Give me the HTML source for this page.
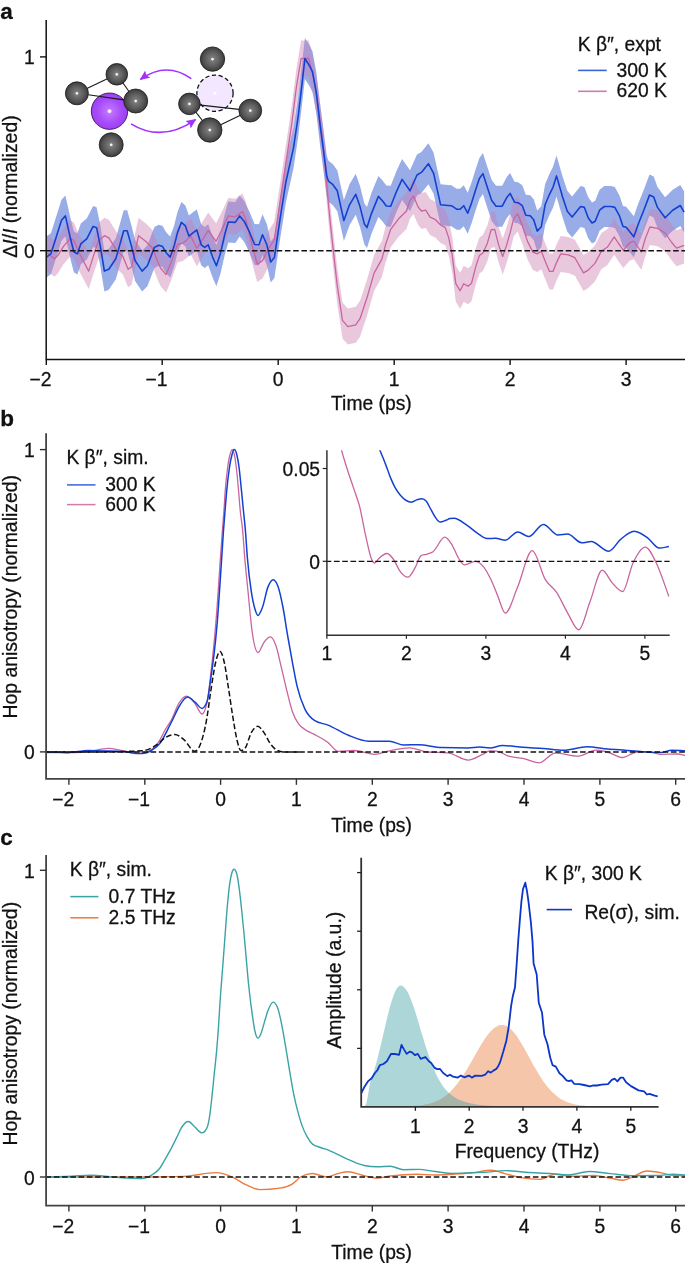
<!DOCTYPE html>
<html><head><meta charset="utf-8"><style>
html,body{margin:0;padding:0;background:#fff;}
svg{display:block;will-change:transform;}
text{font-family:"Liberation Sans",sans-serif;fill:#111;stroke:#111;stroke-width:0.28px;}
</style></head><body>
<svg width="685" height="1263" viewBox="0 0 685 1263">
<defs>
<clipPath id="ca"><rect x="46.4" y="15" width="640" height="344"/></clipPath>
<clipPath id="cbi"><rect x="326.9" y="450.2" width="343" height="184.5"/></clipPath>
<radialGradient id="gg" cx="0.5" cy="0.5" r="0.55"><stop offset="0" stop-color="#858585"/><stop offset="0.6" stop-color="#585858"/><stop offset="1" stop-color="#333"/></radialGradient><radialGradient id="hl"><stop offset="0" stop-color="#fff" stop-opacity="1"/><stop offset="0.45" stop-color="#fff" stop-opacity="0.85"/><stop offset="1" stop-color="#fff" stop-opacity="0"/></radialGradient>
<radialGradient id="gp" cx="0.5" cy="0.5" r="0.55"><stop offset="0" stop-color="#c47cff"/><stop offset="0.6" stop-color="#a84cfb"/><stop offset="1" stop-color="#9a3cf0"/></radialGradient>
<marker id="ah" viewBox="0 0 10 10" refX="9" refY="5" markerWidth="10" markerHeight="10" orient="auto-start-reverse" markerUnits="userSpaceOnUse"><path d="M0 0.5 L10 5 L0 9.5 L1.8 5 Z" fill="#a033ff"/></marker>
</defs>
<text x="0.3" y="18.7" font-size="22.5" font-weight="bold" stroke="#000" stroke-width="0.75">a</text>
<g clip-path="url(#ca)">
<path d="M46.6 236.6 L51 233.1 L57.1 213.8 L61.5 199.8 L65.4 195.4 L70.3 217.3 L73.8 231.3 L77.3 233.4 L80.8 223.4 L86.9 218.2 L93.1 205.9 L96.6 207.2 L100.1 224.3 L104.4 250.6 L108.8 248.8 L115.8 238.3 L119.3 226.1 L123.7 210.3 L127.2 210.3 L131.6 226.1 L135.1 240.1 L142.1 250.6 L147.4 245.3 L154.4 226.9 L158.8 224.8 L162.6 226.1 L166.1 232.2 L170.2 236.6 L174 226.1 L177.5 212.1 L181.4 201.9 L185.4 205.4 L188.9 215.6 L193.3 212.1 L196.8 209.4 L201.2 224.3 L204.7 226.9 L208.2 224.3 L212.6 236.6 L216.4 245.3 L220.4 233.1 L224.8 213.8 L228.3 201.5 L235.3 201.9 L239.7 195.4 L244.1 200.7 L249.3 211.2 L254.6 224 L259 224.3 L262.5 214.2 L266.9 224.3 L270.7 241.5 L274.4 237 L280.2 197.6 L285.9 161.5 L293.5 127.3 L298.3 95 L302.1 62.7 L304.9 38 L309.7 45.6 L312.5 51.3 L316.3 72.2 L320.1 104.5 L323.9 133 L326.8 155.8 L328.5 160.7 L332.9 164.2 L337.3 170.3 L343.9 200.1 L349.5 184.3 L355.7 173.8 L360 186.1 L364.4 203.6 L367 207.1 L371.4 193.1 L378.4 175.9 L382.8 180.8 L386.3 185.5 L390.7 185.7 L396.8 170.3 L402.1 158.9 L410 170.3 L417 154.5 L421.4 151.9 L428.4 143.2 L433.6 152.8 L440.6 184.3 L445.3 184.7 L451.4 185.2 L456.6 188.7 L460.1 188.7 L463.7 185.2 L467.7 192.7 L471.5 182.6 L475.9 168.6 L479.4 158 L482.9 153.1 L487.3 166.8 L491.7 179.9 L496.1 185.7 L502.2 185.7 L506.6 177.3 L510.1 172.9 L514.5 181.7 L518 182.2 L522.3 185.2 L525.8 194.8 L530.2 195.2 L533.7 199.2 L537.2 210.6 L541.3 206.2 L545.1 184.3 L549.5 173.8 L553 166.8 L556.5 155.4 L562.6 176.5 L567.3 190.7 L572.1 196.4 L580.6 186 L584.4 186.9 L588.2 197.3 L592 202.5 L595.2 200.8 L599.6 189.7 L604.3 186 L611 186 L614.8 186.9 L619.5 195.4 L623 205.9 L626.2 206.8 L633.8 216.3 L638.5 203 L644.2 188.8 L649.5 174.6 L653.7 176.5 L657.5 186.9 L665.1 197.3 L672.7 189.7 L680.3 185 L684.1 191.6 L684.1 232.6 L680.3 226 L672.7 230.7 L665.1 238.3 L657.5 227.9 L653.7 217.5 L649.5 215.6 L644.2 229.8 L638.5 244 L633.8 257.3 L626.2 247.8 L623 246.9 L619.5 236.4 L614.8 227.9 L611 227 L604.3 227 L599.6 230.7 L595.2 241.8 L592 243.5 L588.2 238.3 L584.4 227.9 L580.6 227 L572.1 237.4 L567.3 231.7 L562.6 217.5 L556.5 196.4 L553 207.8 L549.5 214.8 L545.1 225.3 L541.3 247.2 L537.2 251.6 L533.7 240.2 L530.2 236.2 L525.8 235.8 L522.3 226.2 L518 223.2 L514.5 222.7 L510.1 213.9 L506.6 218.3 L502.2 226.7 L496.1 226.7 L491.7 220.9 L487.3 207.8 L482.9 194.1 L479.4 199 L475.9 209.6 L471.5 223.6 L467.7 233.7 L463.7 226.2 L460.1 229.7 L456.6 229.7 L451.4 226.2 L445.3 225.7 L440.6 225.3 L433.6 193.8 L428.4 184.2 L421.4 192.9 L417 195.5 L410 211.3 L402.1 199.9 L396.8 211.3 L390.7 226.7 L386.3 226.5 L382.8 221.8 L378.4 216.9 L371.4 234.1 L367 248.1 L364.4 244.6 L360 227.1 L355.7 214.8 L349.5 225.3 L343.9 241.1 L337.3 211.3 L332.9 205.2 L328.5 201.7 L326.8 196.8 L323.9 174 L320.1 145.5 L316.3 113.2 L312.5 92.3 L309.7 86.6 L304.9 79 L302.1 103.7 L298.3 136 L293.5 168.3 L285.9 202.5 L280.2 238.6 L274.4 278 L270.7 282.5 L266.9 265.3 L262.5 255.2 L259 265.3 L254.6 265 L249.3 252.2 L244.1 241.7 L239.7 236.4 L235.3 242.9 L228.3 242.5 L224.8 254.8 L220.4 274.1 L216.4 286.3 L212.6 277.6 L208.2 265.3 L204.7 267.9 L201.2 265.3 L196.8 250.4 L193.3 253.1 L188.9 256.6 L185.4 246.4 L181.4 242.9 L177.5 253.1 L174 267.1 L170.2 277.6 L166.1 273.2 L162.6 267.1 L158.8 265.8 L154.4 267.9 L147.4 286.3 L142.1 291.6 L135.1 281.1 L131.6 267.1 L127.2 251.3 L123.7 251.3 L119.3 267.1 L115.8 279.3 L108.8 289.8 L104.4 291.6 L100.1 265.3 L96.6 248.2 L93.1 246.9 L86.9 259.2 L80.8 264.4 L77.3 274.4 L73.8 272.3 L70.3 258.3 L65.4 236.4 L61.5 240.8 L57.1 254.8 L51 274.1 L46.6 277.6 Z" fill="#98ade8"/>
<path d="M46.6 234.7 L54.5 240.8 L58 237.3 L63.3 228.6 L70.3 220.3 L73.8 222.4 L79 234.7 L88.7 253.1 L93.1 239.1 L98.3 223.3 L104.4 217.7 L108.8 219.8 L117.6 233.8 L122.8 238.2 L128.1 251.3 L131.6 248.7 L138.6 217.7 L145.6 223.3 L152.6 230.3 L157.9 244.3 L160.5 250 L166.1 256.6 L170.5 246.1 L177.5 226.5 L182.8 225.1 L186.3 222.4 L190.7 218.1 L196.8 230.3 L202 222.4 L208.2 212.5 L216.1 223.3 L221.3 212.8 L228.3 197.9 L235.3 198.8 L242.3 193.5 L245.8 201.4 L251.1 223.3 L257.2 246.1 L262.5 242.6 L268.6 230.5 L274.2 222 L280.2 183 L285.9 145 L291.6 107 L296.4 69 L301.1 40.5 L308.7 40.5 L313.5 59.5 L318.2 88 L323 126 L325.5 152 L328.5 187 L332.9 229 L337.3 268 L342.5 302.4 L347.8 308.6 L355.7 306.8 L360 300.7 L367 279.7 L374.1 255.1 L381.9 241.1 L385.4 227.1 L390.7 211.3 L398.6 200.8 L406.5 193 L410 182.4 L413.5 178.1 L417.9 188.6 L421.4 193 L425.7 192.1 L430.1 199.1 L435.4 201.7 L440.6 207 L445.3 209.6 L448.8 220.1 L452.3 237.6 L455.8 265.7 L460.1 272.7 L463.7 265.7 L468 268.3 L471.5 265.3 L475.9 248.1 L479.4 237.6 L482.9 235 L487.3 225.4 L491.2 211.7 L494.7 211.3 L498.7 227.1 L502.7 238.5 L506.6 227.1 L510.1 214.9 L513.6 200.8 L517.6 195.6 L522.3 207.8 L527.6 223.6 L532.9 234.1 L537.2 235.9 L541.3 233.2 L545.1 242.9 L549.5 253.4 L553 253.4 L556.5 244.6 L560.7 235.9 L568.3 236.9 L574.9 239.7 L583.5 254.9 L588.2 252.1 L594.9 245.4 L601.5 233.1 L607.2 229.3 L614.2 218.8 L618.6 225.5 L623.3 232.1 L630 224.5 L633.8 223.2 L641.4 234 L645.2 220.7 L649.9 209 L657.5 210.3 L665.1 215 L671.7 224.5 L676.5 230.2 L684.1 227.4 L684.1 263.4 L676.5 266.2 L671.7 260.5 L665.1 251 L657.5 246.3 L649.9 245 L645.2 256.7 L641.4 270 L633.8 259.2 L630 260.5 L623.3 268.1 L618.6 261.5 L614.2 254.8 L607.2 265.3 L601.5 269.1 L594.9 281.4 L588.2 288.1 L583.5 290.9 L574.9 275.7 L568.3 272.9 L560.7 271.9 L556.5 280.6 L553 289.4 L549.5 289.4 L545.1 278.9 L541.3 269.2 L537.2 271.9 L532.9 270.1 L527.6 259.6 L522.3 243.8 L517.6 231.6 L513.6 236.8 L510.1 250.9 L506.6 263.1 L502.7 274.5 L498.7 263.1 L494.7 247.3 L491.2 247.7 L487.3 261.4 L482.9 271 L479.4 273.6 L475.9 284.1 L471.5 301.3 L468 304.3 L463.7 301.7 L460.1 308.7 L455.8 301.7 L452.3 273.6 L448.8 256.1 L445.3 245.6 L440.6 243 L435.4 237.7 L430.1 235.1 L425.7 228.1 L421.4 229 L417.9 224.6 L413.5 214.1 L410 218.4 L406.5 229 L398.6 236.8 L390.7 247.3 L385.4 263.1 L381.9 277.1 L374.1 291.1 L367 315.7 L360 336.7 L355.7 342.8 L347.8 344.6 L342.5 338.4 L337.3 304 L332.9 265 L328.5 223 L325.5 188 L323 162 L318.2 124 L313.5 95.5 L308.7 76.5 L301.1 76.5 L296.4 105 L291.6 143 L285.9 181 L280.2 219 L274.2 258 L268.6 266.5 L262.5 278.6 L257.2 282.1 L251.1 259.3 L245.8 237.4 L242.3 229.5 L235.3 234.8 L228.3 233.9 L221.3 248.8 L216.1 259.3 L208.2 248.5 L202 258.4 L196.8 266.3 L190.7 254.1 L186.3 258.4 L182.8 261.1 L177.5 262.5 L170.5 282.1 L166.1 292.6 L160.5 286 L157.9 280.3 L152.6 266.3 L145.6 259.3 L138.6 253.7 L131.6 284.7 L128.1 287.3 L122.8 274.2 L117.6 269.8 L108.8 255.8 L104.4 253.7 L98.3 259.3 L93.1 275.1 L88.7 289.1 L79 270.7 L73.8 258.4 L70.3 256.3 L63.3 264.6 L58 273.3 L54.5 276.8 L46.6 270.7 Z" fill="rgba(202,123,176,0.42)"/>
<path d="M46.6 252.7 L54.5 258.8 L58 255.3 L63.3 246.6 L70.3 238.3 L73.8 240.4 L79 252.7 L88.7 271.1 L93.1 257.1 L98.3 241.3 L104.4 235.7 L108.8 237.8 L117.6 251.8 L122.8 256.2 L128.1 269.3 L131.6 266.7 L138.6 235.7 L145.6 241.3 L152.6 248.3 L157.9 262.3 L160.5 268 L166.1 274.6 L170.5 264.1 L177.5 244.5 L182.8 243.1 L186.3 240.4 L190.7 236.1 L196.8 248.3 L202 240.4 L208.2 230.5 L216.1 241.3 L221.3 230.8 L228.3 215.9 L235.3 216.8 L242.3 211.5 L245.8 219.4 L251.1 241.3 L257.2 264.1 L262.5 260.6 L268.6 248.5 L274.2 240 L280.2 201 L285.9 163 L291.6 125 L296.4 87 L301.1 58.5 L308.7 58.5 L313.5 77.5 L318.2 106 L323 144 L325.5 170 L328.5 205 L332.9 247 L337.3 286 L342.5 320.4 L347.8 326.6 L355.7 324.8 L360 318.7 L367 297.7 L374.1 273.1 L381.9 259.1 L385.4 245.1 L390.7 229.3 L398.6 218.8 L406.5 211 L410 200.4 L413.5 196.1 L417.9 206.6 L421.4 211 L425.7 210.1 L430.1 217.1 L435.4 219.7 L440.6 225 L445.3 227.6 L448.8 238.1 L452.3 255.6 L455.8 283.7 L460.1 290.7 L463.7 283.7 L468 286.3 L471.5 283.3 L475.9 266.1 L479.4 255.6 L482.9 253 L487.3 243.4 L491.2 229.7 L494.7 229.3 L498.7 245.1 L502.7 256.5 L506.6 245.1 L510.1 232.9 L513.6 218.8 L517.6 213.6 L522.3 225.8 L527.6 241.6 L532.9 252.1 L537.2 253.9 L541.3 251.2 L545.1 260.9 L549.5 271.4 L553 271.4 L556.5 262.6 L560.7 253.9 L568.3 254.9 L574.9 257.7 L583.5 272.9 L588.2 270.1 L594.9 263.4 L601.5 251.1 L607.2 247.3 L614.2 236.8 L618.6 243.5 L623.3 250.1 L630 242.5 L633.8 241.2 L641.4 252 L645.2 238.7 L649.9 227 L657.5 228.3 L665.1 233 L671.7 242.5 L676.5 248.2 L684.1 245.4" fill="none" stroke="#c9649e" stroke-width="1.3" stroke-linejoin="round"/>
<path d="M46.6 257.1 L51 253.6 L57.1 234.3 L61.5 220.3 L65.4 215.9 L70.3 237.8 L73.8 251.8 L77.3 253.9 L80.8 243.9 L86.9 238.7 L93.1 226.4 L96.6 227.7 L100.1 244.8 L104.4 271.1 L108.8 269.3 L115.8 258.8 L119.3 246.6 L123.7 230.8 L127.2 230.8 L131.6 246.6 L135.1 260.6 L142.1 271.1 L147.4 265.8 L154.4 247.4 L158.8 245.3 L162.6 246.6 L166.1 252.7 L170.2 257.1 L174 246.6 L177.5 232.6 L181.4 222.4 L185.4 225.9 L188.9 236.1 L193.3 232.6 L196.8 229.9 L201.2 244.8 L204.7 247.4 L208.2 244.8 L212.6 257.1 L216.4 265.8 L220.4 253.6 L224.8 234.3 L228.3 222 L235.3 222.4 L239.7 215.9 L244.1 221.2 L249.3 231.7 L254.6 244.5 L259 244.8 L262.5 234.7 L266.9 244.8 L270.7 262 L274.4 257.5 L280.2 218.1 L285.9 182 L293.5 147.8 L298.3 115.5 L302.1 83.2 L304.9 58.5 L309.7 66.1 L312.5 71.8 L316.3 92.7 L320.1 125 L323.9 153.5 L326.8 176.3 L328.5 181.2 L332.9 184.7 L337.3 190.8 L343.9 220.6 L349.5 204.8 L355.7 194.3 L360 206.6 L364.4 224.1 L367 227.6 L371.4 213.6 L378.4 196.4 L382.8 201.3 L386.3 206 L390.7 206.2 L396.8 190.8 L402.1 179.4 L410 190.8 L417 175 L421.4 172.4 L428.4 163.7 L433.6 173.3 L440.6 204.8 L445.3 205.2 L451.4 205.7 L456.6 209.2 L460.1 209.2 L463.7 205.7 L467.7 213.2 L471.5 203.1 L475.9 189.1 L479.4 178.5 L482.9 173.6 L487.3 187.3 L491.7 200.4 L496.1 206.2 L502.2 206.2 L506.6 197.8 L510.1 193.4 L514.5 202.2 L518 202.7 L522.3 205.7 L525.8 215.3 L530.2 215.7 L533.7 219.7 L537.2 231.1 L541.3 226.7 L545.1 204.8 L549.5 194.3 L553 187.3 L556.5 175.9 L562.6 197 L567.3 211.2 L572.1 216.9 L580.6 206.5 L584.4 207.4 L588.2 217.8 L592 223 L595.2 221.3 L599.6 210.2 L604.3 206.5 L611 206.5 L614.8 207.4 L619.5 215.9 L623 226.4 L626.2 227.3 L633.8 236.8 L638.5 223.5 L644.2 209.3 L649.5 195.1 L653.7 197 L657.5 207.4 L665.1 217.8 L672.7 210.2 L680.3 205.5 L684.1 212.1" fill="none" stroke="#1440d2" stroke-width="1.6" stroke-linejoin="round"/>
<path d="M46.4 250.7 H685" stroke="#111" stroke-width="1.5" stroke-dasharray="5.6 2.66" stroke-dashoffset="1.04"/>
</g>
<path d="M46.2 20 V359.4 H685" fill="none" stroke="#111" stroke-width="1.5"/>
<path d="M46.3 359.4 v5.5" stroke="#111" stroke-width="1.4"/>
<text x="51.6" y="385.8" text-anchor="end" font-size="19.3">−2</text>
<path d="M162.2 359.4 v5.5" stroke="#111" stroke-width="1.4"/>
<text x="167.6" y="385.8" text-anchor="end" font-size="19.3">−1</text>
<path d="M278.2 359.4 v5.5" stroke="#111" stroke-width="1.4"/>
<text x="278.2" y="385.8" text-anchor="middle" font-size="19.3">0</text>
<path d="M394.2 359.4 v5.5" stroke="#111" stroke-width="1.4"/>
<text x="394.2" y="385.8" text-anchor="middle" font-size="19.3">1</text>
<path d="M510.1 359.4 v5.5" stroke="#111" stroke-width="1.4"/>
<text x="510.1" y="385.8" text-anchor="middle" font-size="19.3">2</text>
<path d="M626.1 359.4 v5.5" stroke="#111" stroke-width="1.4"/>
<text x="626.1" y="385.8" text-anchor="middle" font-size="19.3">3</text>
<path d="M46.2 56.9 h-6.2" stroke="#111" stroke-width="1.4"/>
<text x="34.8" y="64.4" text-anchor="end" font-size="19.3">1</text>
<path d="M46.2 250.7 h-6.2" stroke="#111" stroke-width="1.4"/>
<text x="34.8" y="258.2" text-anchor="end" font-size="19.3">0</text>
<text x="371.4" y="410" text-anchor="middle" font-size="19.3">Time (ps)</text>
<text transform="translate(17 186.5) rotate(-90)" text-anchor="middle" font-size="19.4">Δ<tspan font-style="italic">I</tspan>/<tspan font-style="italic">I</tspan> (normalized)</text>
<text x="577.7" y="50.7" text-anchor="start" font-size="19.3">K β″, expt</text>
<path d="M578.1 70.4 H606.7" stroke="#3a63db" stroke-width="1.6"/>
<path d="M578.1 91.3 H606.7" stroke="#d27aab" stroke-width="1.6"/>
<text x="616.6" y="76.7" text-anchor="start" font-size="19.3">300 K</text>
<text x="616.6" y="97.2" text-anchor="start" font-size="19.3">620 K</text>
<path d="M76.9 93.3 L116.8 74.3" stroke="#1a1a1a" stroke-width="1.1"/>
<path d="M116.8 74.3 L135.7 101" stroke="#1a1a1a" stroke-width="1.1"/>
<circle cx="116.8" cy="74.3" r="10.8" fill="url(#gg)" stroke="#1a1a1a" stroke-width="0.8"/>
<circle cx="116.8" cy="74.3" r="1.9" fill="url(#hl)"/>
<circle cx="76.9" cy="93.3" r="11.5" fill="url(#gg)" stroke="#1a1a1a" stroke-width="0.8"/>
<circle cx="76.9" cy="93.3" r="1.9" fill="url(#hl)"/>
<circle cx="109.5" cy="111.2" r="18.2" fill="url(#gp)" stroke="#2a0a40" stroke-width="0.8"/>
<circle cx="109.5" cy="111.2" r="2.6" fill="url(#hl)"/>
<path d="M88.3 94.7 L123.6 99.9" stroke="#1a1a1a" stroke-width="1.1"/>
<circle cx="135.7" cy="101" r="12" fill="url(#gg)" stroke="#1a1a1a" stroke-width="0.8"/>
<circle cx="135.7" cy="101" r="1.9" fill="url(#hl)"/>
<circle cx="111.2" cy="144.8" r="12" fill="url(#gg)" stroke="#1a1a1a" stroke-width="0.8"/>
<circle cx="111.2" cy="144.8" r="1.9" fill="url(#hl)"/>
<circle cx="212.5" cy="59.1" r="12.2" fill="url(#gg)" stroke="#1a1a1a" stroke-width="0.8"/>
<circle cx="212.5" cy="59.1" r="1.9" fill="url(#hl)"/>
<circle cx="215" cy="93.2" r="18.1" fill="#f3e6ff" stroke="#111" stroke-width="1.3" stroke-dasharray="4.2 2.6"/>
<circle cx="215" cy="93.2" r="2.2" fill="url(#hl)"/>
<path d="M189.4 103.9 L250.3 110.6" stroke="#1a1a1a" stroke-width="1.1"/>
<path d="M189.4 103.9 L209.8 130" stroke="#1a1a1a" stroke-width="1.1"/>
<path d="M209.8 130 L250.3 110.6" stroke="#1a1a1a" stroke-width="1.1"/>
<circle cx="189.4" cy="103.9" r="10.8" fill="url(#gg)" stroke="#1a1a1a" stroke-width="0.8"/>
<circle cx="189.4" cy="103.9" r="1.9" fill="url(#hl)"/>
<circle cx="250.3" cy="110.6" r="11.4" fill="url(#gg)" stroke="#1a1a1a" stroke-width="0.8"/>
<circle cx="250.3" cy="110.6" r="1.9" fill="url(#hl)"/>
<circle cx="209.8" cy="130" r="12.2" fill="url(#gg)" stroke="#1a1a1a" stroke-width="0.8"/>
<circle cx="209.8" cy="130" r="1.9" fill="url(#hl)"/>
<path d="M191.3 78.6 Q166 61 140.5 79.4" fill="none" stroke="#a033ff" stroke-width="1.7" marker-end="url(#ah)"/>
<path d="M131 123.9 Q162 143 195.5 119.6" fill="none" stroke="#a033ff" stroke-width="1.7" marker-end="url(#ah)"/>
<text x="0.3" y="426.3" font-size="22.5" font-weight="bold" stroke="#000" stroke-width="0.75">b</text>
<path d="M46.4 752.5 C47.9 752.6 49.5 752.7 51 752.7 C58 752.7 65 752.7 72 752.7 C78.2 752.7 84.5 751.9 90.7 751.1 C96.5 750.4 102.4 748.3 108.2 748.3 C112.5 748.3 116.8 749.6 121.1 750.4 C126.5 751.4 132 753.6 137.4 753.6 C140.5 753.6 143.7 753.1 146.8 752.2 C150.7 751 154.6 747.9 158.5 742.2 C160.8 738.8 163.2 733.3 165.5 729.3 C167.4 726 169.4 723.6 171.3 720 C173.9 715.2 176.4 707 179 703 C181.5 699.1 184 696.2 186.5 696.2 C189.3 696.2 192.2 700.3 195 703.7 C197.4 706.5 199.7 714 202.1 714 C204 714 205.8 709 207.7 698.9 C208.7 693.3 209.8 682.7 210.8 673.6 C211.9 664.2 212.9 654.9 214 643.5 C215.1 632.1 216.1 619.8 217.2 605.5 C218.2 591.7 219.3 574.3 220.3 559.6 C221 549.1 221.8 538.8 222.5 529.1 C223 523 223.4 517.8 223.9 511.3 C224.4 504.8 224.8 496 225.3 489.9 C226 480.3 226.8 474.2 227.5 468.5 C228.4 461.8 229.2 457.5 230.1 454.3 C230.8 451.8 231.4 449.6 232.1 449.6 C232.8 449.6 233.6 451.2 234.3 454.3 C235 457.3 235.7 462.6 236.4 468.5 C237.1 474.4 237.8 482.1 238.5 489.9 C239.1 496.6 239.7 505.2 240.3 511.3 C241 518.8 241.8 521.5 242.5 529.1 C243.3 537.3 244.1 550.3 244.9 559.6 C245.9 571.6 247 580.9 248 591.3 C249.4 605 250.7 621.4 252.1 631.3 C254.1 645.5 256 652.6 258 652.6 C260 652.6 262 644.9 264 642.3 C266.1 639.6 268.2 636.8 270.3 636.8 C272.2 636.8 274 640.3 275.9 645.5 C277.7 650.6 279.6 660.1 281.4 667.7 C283.3 675.4 285.1 684 287 691.4 C288.8 698.7 290.7 706.7 292.5 712 C294.6 718.1 296.7 721.3 298.8 724.2 C300.8 727 302.8 727.9 304.8 729.4 C307.7 731.5 310.5 732.3 313.4 733.9 C318.3 736.6 323.1 738.9 328 742.6 C331.4 745.2 334.8 751.4 338.2 751.4 C343.5 751.4 348.9 750.5 354.2 750.5 C361 750.5 367.9 754.3 374.7 754.3 C379.6 754.3 384.4 751.8 389.3 750.8 C396.1 749.4 402.9 747.9 409.7 747.9 C415.5 747.9 421.4 751.5 427.2 752 C434 752.5 440.9 752.3 447.7 752.8 C454.5 753.3 461.3 760.1 468.1 760.1 C473 760.1 477.8 756.5 482.7 754.3 C485.1 753.2 487.6 750.8 490 750.8 C492.2 750.8 494.5 750.9 496.7 751.1 C500.6 751.4 504.5 754.9 508.4 756.1 C513.3 757.6 518.1 757.4 523 758.4 C528.3 759.5 533.7 762.8 539 762.8 C544.4 762.8 549.7 753.1 555.1 753.1 C562.9 753.1 570.6 756.1 578.4 756.1 C584.3 756.1 590.1 750.2 596 750.2 C599.9 750.2 603.7 751 607.6 752 C612.5 753.2 617.3 757.5 622.2 757.5 C627.1 757.5 631.9 752.2 636.8 752 C640.7 751.8 644.6 751.7 648.5 751.7 C652.4 751.7 656.3 754.3 660.2 754.3 C666 754.3 671.9 754 677.7 754 C680.1 754 682.6 755 685 755.5" fill="none" stroke="#c9649e" stroke-width="1.3"/>
<path d="M46.4 752 C47.9 752 49.5 752 51 752 C56.5 752 61.9 752.7 67.4 752.7 C74.4 752.7 81.4 750.4 88.4 750.4 C95.4 750.4 102.4 750.8 109.4 751.1 C114.9 751.3 120.3 751.6 125.8 752 C131.2 752.4 136.7 753.6 142.1 753.6 C145.2 753.6 148.4 752.3 151.5 750.4 C154.6 748.5 157.7 746.6 160.8 742.2 C163.1 738.9 165.5 733.8 167.8 729.3 C169.4 726.3 170.9 723.1 172.5 720 C175 715 177.5 708.8 180 705 C182.5 701.2 184.9 697 187.4 697 C189.9 697 192.5 700.1 195 702.1 C197.4 704 199.7 708.4 202.1 708.4 C203.7 708.4 205.3 706.3 206.9 702.1 C208.2 698.7 209.5 687.3 210.8 678.4 C211.9 671.1 212.9 663.9 214 654.6 C215.1 645.4 216.1 635.8 217.2 622.9 C218 613.6 218.7 602.4 219.5 591.3 C220.3 579.7 221.1 566.9 221.9 554.8 C222.5 546.2 223 536.9 223.6 529.1 C224.1 522.7 224.5 517.1 225 511.3 C225.6 503.9 226.2 496.2 226.8 489.9 C227.6 481.2 228.5 474.3 229.3 468.5 C230.2 462 231.2 457.5 232.1 454.3 C232.8 451.8 233.5 449.6 234.2 449.6 C235.1 449.6 235.9 451.2 236.7 454.3 C237.5 457.5 238.4 462 239.2 468.5 C239.9 474.2 240.7 482.6 241.4 489.9 C242.1 496.9 242.8 504.3 243.5 511.3 C244.1 517.3 244.7 522.1 245.3 529.1 C246 537.3 246.7 549.6 247.4 558 C248.7 573.6 250 583.1 251.3 591.7 C252.4 598.7 253.4 603.6 254.5 607.5 C255.7 611.8 256.8 615.4 258 615.4 C259.5 615.4 260.9 611.3 262.4 607.5 C264.3 602.6 266.1 591.5 268 586.9 C269.7 582.6 271.5 579.8 273.2 579.8 C274.9 579.8 276.5 582.2 278.2 586.9 C279.8 591.4 281.4 599.2 283 607.5 C284.6 615.6 286.1 626.9 287.7 636 C289.3 645.3 290.9 654.4 292.5 662.9 C294.1 671.3 295.6 680 297.2 686.7 C299.7 697.5 302.3 703.4 304.8 708.9 C308.1 716.1 311.5 718.5 314.8 720.7 C319.2 723.6 323.6 723.3 328 725.1 C334.8 727.8 341.6 732.6 348.4 735.3 C355.2 738 362 741.2 368.8 741.2 C375.6 741.2 382.5 741.2 389.3 741.2 C394.2 741.2 399 745 403.9 745 C408.8 745 413.6 744.7 418.5 744.7 C426.3 744.7 434 747.4 441.8 747.6 C450.6 747.8 459.3 747.9 468.1 747.9 C472 747.9 475.9 747 479.8 747 C483.2 747 486.6 747.9 490 747.9 C494.2 747.9 498.3 745.5 502.5 745.5 C509.3 745.5 516.2 746.8 523 747.3 C529.8 747.8 536.6 748 543.4 748.5 C550.2 749 557 750.2 563.8 750.2 C571.6 750.2 579.4 746.7 587.2 746.7 C594 746.7 600.8 748.4 607.6 749 C613.4 749.5 619.3 749.8 625.1 750.2 C631 750.7 636.8 751.3 642.7 751.7 C648.5 752.1 654.4 752.6 660.2 752.6 C664.1 752.6 668 750.2 671.9 750.2 C676.3 750.2 680.6 750.6 685 750.8" fill="none" stroke="#1440d2" stroke-width="1.5"/>
<path d="M46.4 751.9 H685" stroke="#111" stroke-width="1.5" stroke-dasharray="5.6 2.66" stroke-dashoffset="3.22"/>
<path d="M46.4 751.9 C64.3 751.9 82.1 751.9 100 751.9 C114 751.9 128.1 751.5 142.1 750.8 C146.8 750.6 151.4 748.2 156.1 745.2 C159.2 743.2 162.4 739.3 165.5 737.5 C168.6 735.7 171.7 734.5 174.8 734.5 C177.9 734.5 181.1 737.3 184.2 739.9 C187.7 742.8 191.2 751.3 194.7 751.3 C196.6 751.3 198.6 748.9 200.5 744 C202.6 738.6 204.8 730.3 206.9 717.9 C208.2 710.3 209.5 699.4 210.8 691 C212.4 680.7 214 669.1 215.6 662.5 C217.1 656.4 218.5 651.4 220 651.4 C221.4 651.4 222.9 656.2 224.3 662.5 C225.6 668.3 226.9 678.1 228.2 686.3 C229.8 696.4 231.4 708.3 233 717.9 C234.3 725.9 235.7 734.5 237 740 C238.3 745.5 239.7 750.6 241 750.6 C242.3 750.6 243.7 749.9 245 748.4 C247.1 746.1 249.2 736.3 251.3 732.6 C253.4 728.9 255.6 726.3 257.7 726.3 C259.8 726.3 261.9 729.7 264 732.6 C266.1 735.5 268.2 740.8 270.3 743.7 C272.9 747.3 275.6 749.9 278.2 750.8 C280.9 751.7 283.5 752.1 286.2 752.1 C290.8 752.1 295.4 752 300 751.9" fill="none" stroke="#111" stroke-width="1.5" stroke-dasharray="5.6 2.66"/>
<path d="M46.1 433.3 V778.8 H685" fill="none" stroke="#444" stroke-width="1.8"/>
<path d="M68.9 778.8 v6" stroke="#333" stroke-width="1.4"/>
<text x="74.3" y="805.9" text-anchor="end" font-size="19.3">−2</text>
<path d="M144.8 778.8 v6" stroke="#333" stroke-width="1.4"/>
<text x="150.1" y="805.9" text-anchor="end" font-size="19.3">−1</text>
<path d="M220.6 778.8 v6" stroke="#333" stroke-width="1.4"/>
<text x="220.6" y="805.9" text-anchor="middle" font-size="19.3">0</text>
<path d="M296.4 778.8 v6" stroke="#333" stroke-width="1.4"/>
<text x="296.4" y="805.9" text-anchor="middle" font-size="19.3">1</text>
<path d="M372.3 778.8 v6" stroke="#333" stroke-width="1.4"/>
<text x="372.3" y="805.9" text-anchor="middle" font-size="19.3">2</text>
<path d="M448.1 778.8 v6" stroke="#333" stroke-width="1.4"/>
<text x="448.1" y="805.9" text-anchor="middle" font-size="19.3">3</text>
<path d="M524 778.8 v6" stroke="#333" stroke-width="1.4"/>
<text x="524" y="805.9" text-anchor="middle" font-size="19.3">4</text>
<path d="M599.9 778.8 v6" stroke="#333" stroke-width="1.4"/>
<text x="599.9" y="805.9" text-anchor="middle" font-size="19.3">5</text>
<path d="M675.7 778.8 v6" stroke="#333" stroke-width="1.4"/>
<text x="675.7" y="805.9" text-anchor="middle" font-size="19.3">6</text>
<path d="M46.1 449.6 h-6.2" stroke="#333" stroke-width="1.4"/>
<text x="34.7" y="457.1" text-anchor="end" font-size="19.3">1</text>
<path d="M46.1 751.9 h-6.2" stroke="#333" stroke-width="1.4"/>
<text x="34.7" y="759.4" text-anchor="end" font-size="19.3">0</text>
<text x="371.6" y="831.6" text-anchor="middle" font-size="19.3">Time (ps)</text>
<text transform="translate(17.2 596.8) rotate(-90)" text-anchor="middle" font-size="19.4">Hop anisotropy (normalized)</text>
<text x="66.4" y="464" text-anchor="start" font-size="19.3">K β″, sim.</text>
<path d="M67 484.9 H95.5" stroke="#3a63db" stroke-width="1.5"/>
<path d="M67 504.6 H95.5" stroke="#d27aab" stroke-width="1.5"/>
<text x="105.3" y="491" text-anchor="start" font-size="19.3">300 K</text>
<text x="105.3" y="511.1" text-anchor="start" font-size="19.3">600 K</text>
<rect x="327" y="440" width="345" height="195" fill="#fff"/>
<g clip-path="url(#cbi)">
<path d="M338 435 C339.2 440 340.3 445.4 341.5 450 C343.1 456.3 344.7 461.1 346.3 466.3 C348.9 474.8 351.6 482 354.2 489.9 C355.9 495.1 357.7 499.1 359.4 505.7 C361.6 514.1 363.8 527.6 366 537.2 C367.7 544.8 369.5 554 371.2 558.2 C372.4 561.1 373.5 563 374.7 563 C376.2 563 377.6 559.5 379.1 558.2 C381.7 555.8 384.4 553.5 387 553.5 C389.2 553.5 391.4 556.5 393.6 559.5 C395.8 562.5 397.9 568.5 400.1 571.4 C402.7 574.9 405.4 577.2 408 577.2 C410.2 577.2 412.4 572.3 414.6 568.7 C416.8 565.1 419 556.7 421.2 555.6 C422.9 554.7 424.7 554.8 426.4 554.3 C428.6 553.6 430.8 553.2 433 551.7 C436.9 549 440.9 537.2 444.8 537.2 C447 537.2 449.2 540.6 451.4 543.8 C454 547.6 456.7 555.8 459.3 559.5 C461 561.9 462.8 564.8 464.5 564.8 C468 564.8 471.5 561.4 475 561.4 C477.6 561.4 480.3 563.1 482.9 566.1 C485.5 569.1 488.2 573.9 490.8 579.3 C493 583.8 495.2 589.9 497.4 595 C500 601.2 502.7 613.1 505.3 613.1 C509.4 613.1 513.6 596.3 517.7 586.8 C522.5 575.7 527.4 550.7 532.2 550.7 C536.6 550.7 541.1 572.8 545.5 579.9 C549.2 585.8 552.9 586.8 556.6 592.3 C560.3 597.8 564 606.9 567.7 613.1 C571.4 619.4 575.1 629.8 578.8 629.8 C582.5 629.8 586.2 611.5 589.9 602.1 C594 591.6 598.2 570.2 602.3 570.2 C605.5 570.2 608.8 579.1 612 582.6 C615.5 586.4 619.1 591.5 622.6 591.5 C626 591.5 629.5 570.4 632.9 563.2 C637 554.6 641.2 547.1 645.3 547.1 C649 547.1 652.7 555.7 656.4 563.2 C660.6 571.6 664.7 585.4 668.9 596.5" fill="none" stroke="#c9649e" stroke-width="1.3"/>
<path d="M376 440 C377.3 443.4 378.6 447 379.9 450.3 C381.3 453.8 382.6 456.7 384 460.2 C385.2 463.2 386.3 466.4 387.5 469.5 C388.7 472.6 389.8 476.1 391 478.9 C392.4 482.2 393.7 485.1 395.1 487.6 C396.9 490.8 398.6 493.1 400.4 495.2 C402.3 497.5 404.3 499.3 406.2 500.5 C408 501.6 409.7 502.2 411.5 502.2 C413.2 502.2 415 500.5 416.7 499.9 C418.5 499.3 420.2 498.7 422 498.7 C423.4 498.7 424.7 499.5 426.1 501.1 C427.6 502.8 429.2 506.5 430.7 509.2 C432.3 511.9 433.8 515.2 435.4 517.4 C437 519.5 438.5 522.1 440.1 522.1 C442 522.1 444 521 445.9 520.3 C447.3 519.8 448.6 518.8 450 518.6 C451.3 518.4 452.7 518.3 454 518.3 C458.4 518.3 462.7 522.5 467.1 525.4 C470.6 527.7 474.1 531 477.6 533.3 C480.7 535.3 483.7 538.5 486.8 538.5 C489.7 538.5 492.6 538.3 495.5 538.3 C498.8 538.3 502 540.2 505.3 540.2 C509.4 540.2 513.6 531.9 517.7 531.9 C521.4 531.9 525.1 536.6 528.8 536.6 C533.6 536.6 538.5 524.4 543.3 524.4 C548.2 524.4 553.1 534.9 558 534.9 C561.2 534.9 564.5 534.1 567.7 534.1 C572.3 534.1 576.9 542.7 581.5 542.7 C584.7 542.7 588 541.6 591.2 541.6 C597 541.6 602.9 551.3 608.7 551.3 C612.6 551.3 616.5 542.8 620.4 539.6 C625 535.8 629.6 531.3 634.2 531.3 C638.8 531.3 643.5 535 648.1 538.3 C651.8 540.9 655.5 548 659.2 548 C662.4 548 665.7 547.1 668.9 546.6" fill="none" stroke="#1440d2" stroke-width="1.5"/>
<path d="M326.9 561.3 H669.7" stroke="#111" stroke-width="1.3" stroke-dasharray="5.7 2.56" stroke-dashoffset="1.24"/>
</g>
<path d="M326.9 450.2 V635.2 H669.7" fill="none" stroke="#333" stroke-width="1.5"/>
<path d="M326.9 635.2 v3.5" stroke="#222" stroke-width="1.2"/>
<text x="326.9" y="660.1" text-anchor="middle" font-size="19.3">1</text>
<path d="M406.4 635.2 v3.5" stroke="#222" stroke-width="1.2"/>
<text x="406.4" y="660.1" text-anchor="middle" font-size="19.3">2</text>
<path d="M485.9 635.2 v3.5" stroke="#222" stroke-width="1.2"/>
<text x="485.9" y="660.1" text-anchor="middle" font-size="19.3">3</text>
<path d="M565.4 635.2 v3.5" stroke="#222" stroke-width="1.2"/>
<text x="565.4" y="660.1" text-anchor="middle" font-size="19.3">4</text>
<path d="M644.9 635.2 v3.5" stroke="#222" stroke-width="1.2"/>
<text x="644.9" y="660.1" text-anchor="middle" font-size="19.3">5</text>
<path d="M326.9 468.5 h-4.2" stroke="#222" stroke-width="1.2"/>
<text x="320.1" y="476" text-anchor="end" font-size="19.3">0.05</text>
<path d="M326.9 561.3 h-4.2" stroke="#222" stroke-width="1.2"/>
<text x="320.1" y="568.8" text-anchor="end" font-size="19.3">0</text>
<text x="0.2" y="844.5" font-size="22.5" font-weight="bold" stroke="#000" stroke-width="0.75">c</text>
<path d="M46.4 1177 C77.6 1177 108.8 1177 140 1177 C154.6 1177 169.2 1176.8 183.8 1176.4 C194.5 1176.1 205.2 1172.6 215.9 1172.6 C221.7 1172.6 227.6 1174.9 233.4 1177.6 C237.3 1179.4 241.2 1182.4 245.1 1184.3 C250 1186.6 254.8 1189.6 259.7 1189.6 C266.5 1189.6 273.3 1189.1 280.1 1188.1 C284 1187.5 287.9 1186.7 291.8 1184.3 C294.7 1182.5 297.7 1178.8 300.6 1177 C304.5 1174.7 308.4 1173.5 312.3 1173.5 C317.2 1173.5 322 1177 326.9 1177 C330.6 1177 334.2 1174.5 337.9 1173.6 C341.4 1172.8 344.9 1171.8 348.4 1171.8 C352.8 1171.8 357.1 1174 361.5 1175 C366.8 1176.2 372 1178.1 377.3 1178.1 C381.7 1178.1 386 1176.6 390.4 1176 C399.2 1174.9 407.9 1174.2 416.7 1174.2 C422.8 1174.2 429 1175 435.1 1175 C441.2 1175 447.4 1174.6 453.5 1174.2 C459.6 1173.8 465.8 1173.4 471.9 1172.8 C478.5 1172.1 485 1170.2 491.6 1170.2 C496 1170.2 500.3 1172.5 504.7 1173.6 C510.1 1175 515.4 1176.6 520.8 1177.6 C526.9 1178.7 533.1 1179.4 539.2 1179.4 C544.4 1179.4 549.7 1174.2 554.9 1174.2 C560.2 1174.2 565.4 1176.3 570.7 1176.3 C578.6 1176.3 586.4 1175.5 594.3 1175.5 C599.6 1175.5 604.8 1177.2 610.1 1178.1 C614.5 1178.8 618.8 1180.2 623.2 1180.2 C626.7 1180.2 630.2 1177.6 633.7 1176.3 C638.1 1174.6 642.5 1171 646.9 1171 C652.1 1171 657.4 1172.1 662.6 1173.1 C666.1 1173.8 669.7 1175.4 673.2 1175.5 C677.1 1175.6 681.1 1175.6 685 1175.7" fill="none" stroke="#ee7a3c" stroke-width="1.4"/>
<path d="M46.4 1177 C54.9 1176.7 63.5 1176.6 72 1176.2 C78.2 1175.9 84.5 1175.2 90.7 1175.2 C98.5 1175.2 106.3 1176.6 114.1 1177.1 C123.4 1177.7 132.8 1178.5 142.1 1178.5 C145.2 1178.5 148.4 1177.1 151.5 1175.2 C154.3 1173.5 157.2 1171.9 160 1168 C161.8 1165.5 163.7 1161.8 165.5 1158.6 C167.4 1155.3 169.2 1152.1 171.1 1148.6 C172.9 1145.1 174.8 1141.3 176.6 1137.6 C178.5 1133.9 180.3 1129.2 182.2 1126.5 C184.2 1123.6 186.3 1121.5 188.3 1121.5 C190.3 1121.5 192.4 1124.8 194.4 1126.5 C197 1128.6 199.5 1132.9 202.1 1132.9 C203.6 1132.9 205.1 1131.5 206.6 1128.7 C207.5 1127 208.5 1123.3 209.4 1117.6 C210.3 1112.1 211.2 1103.7 212.1 1095.4 C212.8 1088.6 213.6 1080.5 214.3 1073.3 C215.1 1065.7 215.8 1059.9 216.6 1051.1 C217.2 1044.2 217.8 1036.7 218.4 1028 C218.9 1020.3 219.5 1010.4 220 1002.5 C220.8 990.6 221.6 981.3 222.4 970.8 C223.2 960.2 224 949.8 224.8 939.2 C225.6 928.7 226.4 916.6 227.2 907.5 C228 898.8 228.7 891 229.5 885.3 C230.3 879.3 231.1 875.4 231.9 872.7 C232.6 870.4 233.3 869.2 234 869.2 C234.9 869.2 235.8 870.6 236.7 873.5 C237.5 875.9 238.2 881.4 239 886.9 C239.8 892.6 240.6 900.1 241.4 907.5 C242.2 914.9 243 922.8 243.8 931.3 C244.6 939.7 245.4 949.3 246.2 958.2 C247 966.7 247.7 975.9 248.5 983.5 C249.6 994.1 250.6 1002.5 251.7 1010.4 C252.8 1018.3 253.8 1026.4 254.9 1031 C255.9 1035.5 257 1038.1 258 1038.1 C259 1038.1 260 1035.9 261 1033.5 C262 1031.1 263 1026.9 264 1023.6 C265.4 1019.1 266.7 1013.7 268.1 1010.2 C269.8 1006 271.4 1002.1 273.1 1002.1 C274.6 1002.1 276 1003.9 277.5 1007.5 C278.8 1010.8 280.2 1017.2 281.5 1023.6 C282.9 1030.2 284.2 1038.5 285.6 1046.5 C286.9 1054.3 288.3 1063 289.6 1070.8 C290.9 1078.6 292.3 1086.9 293.6 1093.6 C295 1100.4 296.3 1105.9 297.7 1111.1 C299 1116.2 300.4 1120.7 301.7 1124.6 C303.5 1129.8 305.3 1133.5 307.1 1136.7 C308.9 1140 310.7 1142.6 312.5 1144.1 C315.2 1146.4 317.9 1146.5 320.6 1147.5 C323.7 1148.7 326.9 1149.5 330 1150.8 C335.3 1152.9 340.5 1156.1 345.8 1158.4 C351.9 1161.1 358.1 1164.3 364.2 1165.5 C368.6 1166.4 372.9 1166.8 377.3 1166.8 C381.7 1166.8 386 1166.3 390.4 1166.3 C394.8 1166.3 399.2 1169.7 403.6 1169.7 C408.8 1169.7 414.1 1169.4 419.3 1169.4 C424.6 1169.4 429.8 1170.9 435.1 1171.5 C441.2 1172.2 447.4 1173.4 453.5 1173.4 C459.6 1173.4 465.8 1173 471.9 1172.8 C477.1 1172.6 482.4 1172.4 487.6 1172.1 C493.4 1171.7 499.2 1170.6 505 1170.6 C512 1170.6 519 1171.8 526 1172.3 C534.8 1172.9 543.5 1173 552.3 1173.6 C557.6 1174 562.8 1175 568.1 1175 C575.1 1175 582.1 1171.5 589.1 1171.5 C596.1 1171.5 603.1 1172.9 610.1 1173.6 C618 1174.3 625.8 1175.7 633.7 1175.7 C641.6 1175.7 649.5 1175.6 657.4 1175.5 C662.7 1175.4 667.9 1174.2 673.2 1174.2 C677.1 1174.2 681.1 1174.7 685 1175" fill="none" stroke="#3aa3a6" stroke-width="1.4"/>
<path d="M46.4 1177 H685" stroke="#111" stroke-width="1.5" stroke-dasharray="5.6 2.66" stroke-dashoffset="0.86"/>
<path d="M46.1 855 V1205.6 H685" fill="none" stroke="#444" stroke-width="1.8"/>
<path d="M68.9 1205.6 v6" stroke="#333" stroke-width="1.4"/>
<text x="74.3" y="1233" text-anchor="end" font-size="19.3">−2</text>
<path d="M144.8 1205.6 v6" stroke="#333" stroke-width="1.4"/>
<text x="150.1" y="1233" text-anchor="end" font-size="19.3">−1</text>
<path d="M220.6 1205.6 v6" stroke="#333" stroke-width="1.4"/>
<text x="220.6" y="1233" text-anchor="middle" font-size="19.3">0</text>
<path d="M296.4 1205.6 v6" stroke="#333" stroke-width="1.4"/>
<text x="296.4" y="1233" text-anchor="middle" font-size="19.3">1</text>
<path d="M372.3 1205.6 v6" stroke="#333" stroke-width="1.4"/>
<text x="372.3" y="1233" text-anchor="middle" font-size="19.3">2</text>
<path d="M448.1 1205.6 v6" stroke="#333" stroke-width="1.4"/>
<text x="448.1" y="1233" text-anchor="middle" font-size="19.3">3</text>
<path d="M524 1205.6 v6" stroke="#333" stroke-width="1.4"/>
<text x="524" y="1233" text-anchor="middle" font-size="19.3">4</text>
<path d="M599.9 1205.6 v6" stroke="#333" stroke-width="1.4"/>
<text x="599.9" y="1233" text-anchor="middle" font-size="19.3">5</text>
<path d="M675.7 1205.6 v6" stroke="#333" stroke-width="1.4"/>
<text x="675.7" y="1233" text-anchor="middle" font-size="19.3">6</text>
<path d="M46.1 870.3 h-6.2" stroke="#333" stroke-width="1.4"/>
<text x="34.7" y="877.8" text-anchor="end" font-size="19.3">1</text>
<path d="M46.1 1177 h-6.2" stroke="#333" stroke-width="1.4"/>
<text x="34.7" y="1184.5" text-anchor="end" font-size="19.3">0</text>
<text x="371.6" y="1258.9" text-anchor="middle" font-size="19.3">Time (ps)</text>
<text transform="translate(17.2 1023.7) rotate(-90)" text-anchor="middle" font-size="19.4">Hop anisotropy (normalized)</text>
<text x="69.7" y="876" text-anchor="start" font-size="19.3">K β″, sim.</text>
<path d="M70.3 896.6 H98.4" stroke="#3aa3a6" stroke-width="1.5"/>
<path d="M70.3 917.8 H98.4" stroke="#ee7a3c" stroke-width="1.5"/>
<text x="108.6" y="902.7" text-anchor="start" font-size="19.3">0.7 THz</text>
<text x="108.6" y="923.5" text-anchor="start" font-size="19.3">2.5 THz</text>
<rect x="362" y="850" width="310" height="257" fill="#fff"/>
<path d="M400 1106.5 L400 1106.4 L401.7 1106.4 L403.3 1106.3 L405 1106.3 L406.7 1106.3 L408.3 1106.2 L410 1106.1 L411.7 1106.1 L413.3 1106 L415 1105.8 L416.7 1105.7 L418.3 1105.6 L420 1105.4 L421.7 1105.2 L423.3 1104.9 L425 1104.6 L426.7 1104.3 L428.3 1103.9 L430 1103.5 L431.7 1103 L433.3 1102.5 L435 1101.8 L436.7 1101.1 L438.3 1100.3 L440 1099.5 L441.7 1098.5 L443.3 1097.4 L445 1096.2 L446.7 1094.9 L448.3 1093.5 L450 1092 L451.7 1090.3 L453.3 1088.5 L455 1086.6 L456.7 1084.5 L458.3 1082.3 L460 1080 L461.7 1077.6 L463.3 1075.1 L465 1072.4 L466.7 1069.7 L468.3 1066.9 L470 1064 L471.7 1061.1 L473.3 1058.2 L475 1055.2 L476.7 1052.3 L478.3 1049.4 L480 1046.6 L481.7 1043.8 L483.3 1041.2 L485 1038.6 L486.7 1036.3 L488.3 1034.1 L490 1032.1 L491.7 1030.3 L493.3 1028.7 L495 1027.4 L496.7 1026.4 L498.3 1025.6 L500 1025.1 L501.7 1024.9 L503.3 1025 L505 1025.4 L506.7 1026.1 L508.3 1027.1 L510 1028.4 L511.7 1030 L513.3 1031.8 L515 1033.8 L516.7 1036.1 L518.3 1038.5 L520 1041.2 L521.7 1043.9 L523.3 1046.8 L525 1049.7 L526.7 1052.7 L528.3 1055.8 L530 1058.8 L531.7 1061.9 L533.3 1064.9 L535 1067.8 L536.7 1070.7 L538.3 1073.5 L540 1076.2 L541.7 1078.8 L543.3 1081.2 L545 1083.5 L546.7 1085.7 L548.3 1087.8 L550 1089.7 L551.7 1091.5 L553.3 1093.1 L555 1094.6 L556.7 1096 L558.3 1097.2 L560 1098.4 L561.7 1099.4 L563.3 1100.3 L565 1101.1 L566.7 1101.9 L568.3 1102.5 L570 1103.1 L571.7 1103.6 L573.3 1104 L575 1104.4 L576.7 1104.7 L578.3 1105 L580 1105.2 L581.7 1105.5 L583.3 1105.6 L585 1105.8 L586.7 1105.9 L588.3 1106 L590 1106.1 L591.7 1106.2 L593.3 1106.2 L595 1106.3 L596.7 1106.3 L598.3 1106.4 L600 1106.4 L600 1106.5 Z" fill="#f6c6aa"/>
<path d="M364.6 1106.5 L364.6 1106.5 L366.1 1104.2 L367.5 1097.7 L369 1088.9 L370.4 1081.5 L371.9 1077.4 L373.4 1073 L374.8 1068.1 L376.3 1063 L377.8 1057.4 L379.2 1051.6 L380.7 1045.6 L382.1 1039.4 L383.6 1033.1 L385.1 1026.8 L386.5 1020.6 L388 1014.6 L389.4 1008.9 L390.9 1003.6 L392.4 998.9 L393.8 994.7 L395.3 991.3 L396.8 988.6 L398.2 986.7 L399.7 985.7 L401.1 985.5 L402.6 986.1 L404.1 987.2 L405.5 988.9 L407 991.1 L408.5 993.8 L409.9 997 L411.4 1000.7 L412.8 1004.6 L414.3 1008.9 L415.8 1013.5 L417.2 1018.2 L418.7 1023 L420.1 1027.9 L421.6 1032.9 L423.1 1037.8 L424.5 1042.6 L426 1047.2 L427.5 1051.8 L428.9 1056.1 L430.4 1060.2 L431.8 1064.1 L433.3 1067.8 L434.8 1071.2 L436.2 1074.4 L437.7 1077.4 L439.1 1080.1 L440.6 1082.6 L442.1 1084.8 L443.5 1086.9 L445 1088.7 L446.5 1090.4 L447.9 1092 L449.4 1093.4 L450.8 1094.6 L452.3 1095.7 L453.8 1096.7 L455.2 1097.6 L456.7 1098.5 L458.1 1099.2 L459.6 1099.9 L461.1 1100.5 L462.5 1101.1 L464 1101.6 L465.5 1102 L466.9 1102.4 L468.4 1102.8 L469.8 1103.2 L471.3 1103.5 L472.8 1103.8 L474.2 1104 L475.7 1104.3 L477.1 1104.5 L478.6 1104.7 L480.1 1104.9 L481.5 1105.1 L483 1105.2 L484.5 1105.3 L485.9 1105.5 L487.4 1105.6 L488.8 1105.7 L490.3 1105.8 L491.8 1105.9 L493.2 1105.9 L494.7 1106 L496.1 1106.1 L497.6 1106.1 L499.1 1106.2 L500.5 1106.2 L502 1106.2 L503.5 1106.3 L504.9 1106.3 L506.4 1106.3 L507.8 1106.4 L509.3 1106.4 L510.8 1106.4 L512.2 1106.4 L513.7 1106.4 L515.2 1106.4 L516.6 1106.4 L518.1 1106.4 L519.5 1106.5 L521 1106.5 L522.5 1106.5 L523.9 1106.5 L525.4 1106.5 L526.8 1106.5 L528.3 1106.5 L529.8 1106.5 L531.2 1106.5 L532.7 1106.5 L534.2 1106.5 L535.6 1106.5 L537.1 1106.5 L538.5 1106.5 L540 1106.5 L540 1106.5 Z" fill="rgba(57,157,162,0.42)"/>
<path d="M361.3 1093 L364.7 1086.4 L368.2 1081.1 L371.7 1078.2 L374.6 1073.5 L377.5 1070 L379.9 1065.1 L383.4 1064 L386.9 1061.3 L391 1053.9 L395 1054 L399.1 1054.9 L401.5 1044.9 L404.1 1049.6 L406.7 1053.9 L409.6 1051.6 L412 1052.3 L414.9 1055.1 L417.8 1053.9 L420.7 1058.9 L425.4 1057 L428.9 1061.3 L431.2 1063 L434.7 1067.9 L437.1 1069.1 L440 1069 L443.2 1073 L447.3 1076.1 L450 1074.7 L453.1 1076.7 L457.8 1077.6 L460.9 1075.6 L464.2 1077.3 L468.9 1075.6 L471.8 1077.6 L475.3 1075.6 L481.7 1075.9 L485.2 1074.7 L488.1 1071.2 L490.8 1072.6 L493.4 1070.6 L496.3 1068.9 L498.6 1065.4 L500 1062.4 L503.2 1052.1 L506.3 1041 L508.7 1026.8 L511.1 1006.2 L512.7 996.7 L515 987.2 L516.6 965 L518.2 941.3 L519.8 920.7 L521.4 901.7 L523 889 L525.3 882.7 L526.9 890.6 L528.5 901.7 L530.9 922.3 L532.5 941.3 L533.6 963.4 L536.7 974.5 L538.8 1003 L542 1012.5 L544.3 1034.7 L547.5 1044.2 L550.2 1057.5 L552.5 1065.1 L555.8 1066.6 L559.5 1073.3 L562.4 1075.6 L566.5 1080.3 L568.9 1081.1 L571.4 1080.3 L574.1 1083.8 L579.4 1084.1 L584 1085 L589.9 1086.4 L593.4 1085.3 L596.9 1085.5 L601.6 1084.6 L608 1084.1 L611.8 1079.9 L614.6 1078.6 L617.4 1081.3 L620.5 1077.6 L623 1077.6 L626.1 1082.3 L631 1086.1 L638.5 1090.4 L644 1091.3 L646.9 1094.5 L649.6 1093.8 L654.6 1095.7 L657.7 1096.4" fill="none" stroke="#0b36c9" stroke-width="1.8" stroke-linejoin="round"/>
<path d="M361.2 857.7 V1106.8 H658.6" fill="none" stroke="#333" stroke-width="1.8"/>
<path d="M415.4 1106.8 v4" stroke="#222" stroke-width="1.3"/>
<text x="415.4" y="1132.9" text-anchor="middle" font-size="19.3">1</text>
<path d="M469.2 1106.8 v4" stroke="#222" stroke-width="1.3"/>
<text x="469.2" y="1132.9" text-anchor="middle" font-size="19.3">2</text>
<path d="M523 1106.8 v4" stroke="#222" stroke-width="1.3"/>
<text x="523" y="1132.9" text-anchor="middle" font-size="19.3">3</text>
<path d="M576.9 1106.8 v4" stroke="#222" stroke-width="1.3"/>
<text x="576.9" y="1132.9" text-anchor="middle" font-size="19.3">4</text>
<path d="M630.8 1106.8 v4" stroke="#222" stroke-width="1.3"/>
<text x="630.8" y="1132.9" text-anchor="middle" font-size="19.3">5</text>
<path d="M361.4 872.6 h-4.3" stroke="#222" stroke-width="1.3"/>
<path d="M361.4 931.2 h-4.3" stroke="#222" stroke-width="1.3"/>
<path d="M361.4 989.8 h-4.3" stroke="#222" stroke-width="1.3"/>
<path d="M361.4 1048.4 h-4.3" stroke="#222" stroke-width="1.3"/>
<text x="527" y="1157.5" text-anchor="middle" font-size="19.3">Frequency (THz)</text>
<text transform="translate(341.4 980.2) rotate(-90)" text-anchor="middle" font-size="19.4">Amplitude (a.u.)</text>
<text x="544.7" y="879.9" text-anchor="start" font-size="19.3">K β″, 300 K</text>
<path d="M546.7 909.6 H572" stroke="#0b36c9" stroke-width="1.6"/>
<text x="584.4" y="918.6" text-anchor="start" font-size="19.3">Re(σ), sim.</text>
</svg>
</body></html>
